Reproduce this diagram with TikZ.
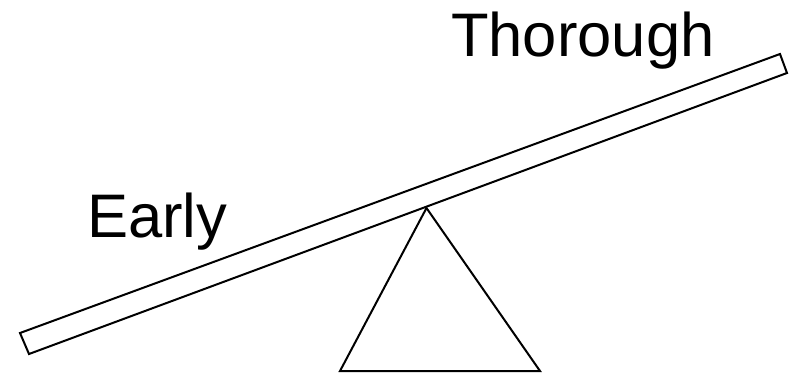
\documentclass[tikz,border=0pt]{standalone}
\usepackage{fontspec}
\setmainfont{Liberation Sans}
\begin{document}
\begin{tikzpicture}[x=1pt,y=-1pt,
  edge/.style={draw=black,line width=2pt,line join=miter},
  word/.style={inner sep=0pt,anchor=base west,font=\fontsize{61.5}{72}\selectfont}]
\useasboundingbox (0,0) rectangle (792,372);
\coordinate (p1) at (20,333);
\coordinate (p2) at (29,354);
\coordinate (p3) at (787,73);
\coordinate (p4) at (780,54);
\draw[edge] (p1) -- (p2) -- (p3) -- (p4) -- cycle;
\coordinate (apex) at (426.5,208);
\coordinate (bl) at (340,371);
\coordinate (br) at (540,371);
\draw[edge] (apex) -- (bl) -- (br) -- cycle;
\node[word] (thorough) at (451,56) {Thorough};
\node[word] (early) at (87,237) {Early};
\end{tikzpicture}
\end{document}
